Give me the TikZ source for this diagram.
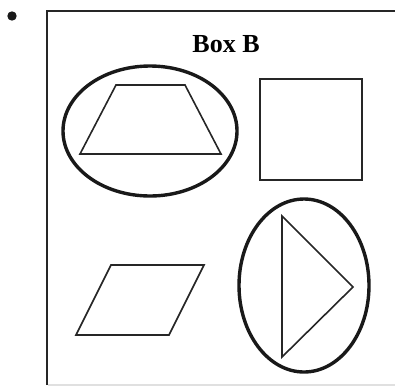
\documentclass[tikz,border=0pt]{standalone}
\usepackage{fontspec}
\setmainfont{Liberation Serif}
\usepackage{tikz}
\usetikzlibrary{positioning, shapes.geometric}

\begin{document}
\begin{tikzpicture}[
  x=1pt, y=-1pt,
  frame/.style={line width=2.2pt, draw=black!85},
  outline/.style={line width=1.6pt, draw=black!85, line join=miter},
  ring/.style={ellipse, draw, line width=3.4pt, draw=black!90, inner sep=0pt},
]
\useasboundingbox (0,0) rectangle (395,386);

%% Bullet and frame
\fill[black!90] (12,16) circle (4.7);
\draw[frame] (47,385) -- (47,11) -- (396,11);
\draw[black!12, line width=1.5pt] (48,385) -- (395,385);

%% Title
\node[font=\bfseries\fontsize{26}{30}\selectfont] (title) at (226,44) {Box B};

%% Rings
\node[ring, minimum width=174pt, minimum height=130pt] (ringA) at (150,131) {};
\node[ring, minimum width=130pt, minimum height=173pt] (ringB) at (304,285.5) {};

%% Shapes
\draw[outline] (116,85) -- (185,85) -- (221,154) -- (80,154) -- cycle;
\draw[outline] (260,79) rectangle (362,180);
\draw[outline] (111,265) -- (204,265) -- (169,335) -- (76,335) -- cycle;
\draw[outline] (282,216) -- (353,287) -- (282,357) -- cycle;

\end{tikzpicture}
\end{document}
